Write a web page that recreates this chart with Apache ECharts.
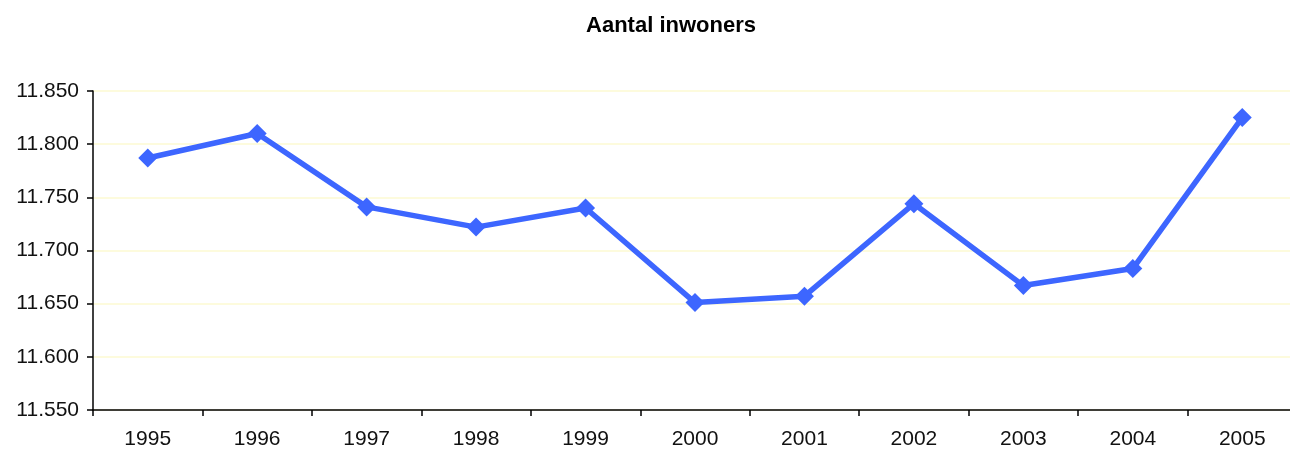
<!DOCTYPE html>
<html>
<head>
<meta charset="utf-8">
<script src="https://cdn.jsdelivr.net/npm/echarts@6/dist/echarts.min.js"></script>
<style>
	html, body { margin: 0; padding: 0; background: #fff; overflow: hidden; }
	/* plot area runs a few px past the right edge, like the original */
	#main { width: 1297px; height: 450px; }
</style>
</head>
<body>
<div id="main"></div>
<script>
// jaartallen en aantal inwoners
var years = ['1995', '1996', '1997', '1998', '1999', '2000', '2001', '2002', '2003', '2004', '2005'];
var inwoners = [11787, 11810, 11741, 11722, 11740, 11651, 11657, 11744, 11667, 11683, 11825];
var yTicks = [11550, 11600, 11650, 11700, 11750, 11800, 11850];

function fmtNum(v) {
	// 11850 -> 11.850
	var s = String(Math.round(v));
	return s.replace(/\B(?=(\d{3})+(?!\d))/g, '.');
}

var chart = echarts.init(document.getElementById('main'), null, { renderer: 'canvas' });
var option = {
	animation: false,
	backgroundColor: '#ffffff',
	textStyle: { fontFamily: 'Liberation Sans, Arial, sans-serif' },
	title: {
		text: 'Aantal inwoners',
		left: 666,
		textAlign: 'center',
		top: 10,
		textStyle: { fontSize: 22, fontWeight: 'bold', color: '#000' }
	},
	grid: {
		top: 91,
		left: 93,
		right: 0,
		bottom: 40,
		containLabel: false
	},
	xAxis: {
		type: 'category',
		data: years,
		boundaryGap: true,
		axisLine: { show: true, lineStyle: { color: '#000', width: 1.5 } },
		axisTick: { show: true, length: 6, inside: false, lineStyle: { color: '#000', width: 1.5 } },
		axisLabel: { color: '#111', fontSize: 21, margin: 19 },
		splitLine: { show: false }
	},
	yAxis: {
		type: 'value',
		min: yTicks[0],
		max: yTicks[yTicks.length - 1],
		interval: 50,
		axisLine: { show: true, lineStyle: { color: '#000', width: 1.5 } },
		axisTick: { show: true, length: 6, lineStyle: { color: '#000', width: 1.5 } },
		axisLabel: { color: '#111', fontSize: 21, margin: 14, formatter: fmtNum },
		splitLine: { show: true, lineStyle: { color: '#fcfad2', width: 1.5 } }
	},
	series: [{
		type: 'line',
		data: inwoners,
		symbol: 'diamond',
		symbolSize: 19,
		lineStyle: { color: '#3d66ff', width: 5.5 },
		itemStyle: { color: '#3d66ff' }
	}]
};
chart.setOption(option);
</script>
</body>
</html>
